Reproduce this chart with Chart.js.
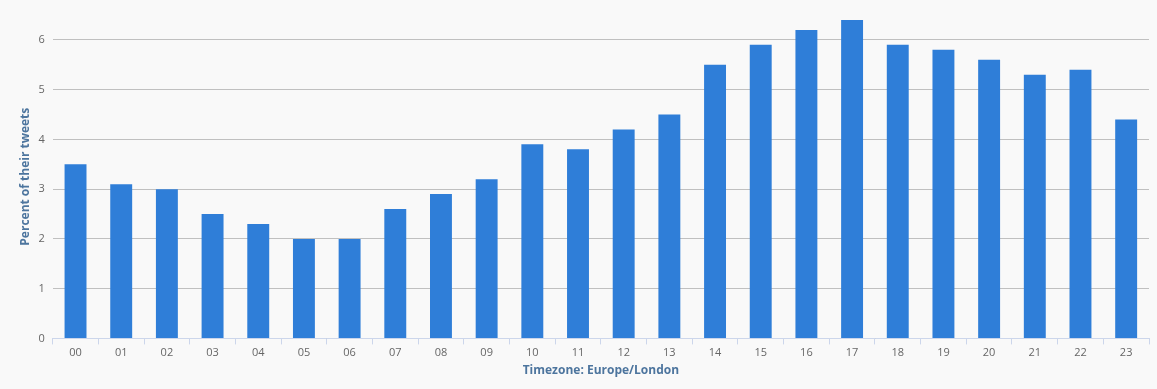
<!DOCTYPE html>
<html>
<head>
<meta charset="utf-8">
<script src="https://cdn.jsdelivr.net/npm/chart.js@4"></script>
<style>
  html, body { margin:0; padding:0; background:#f9f9f9; }
  #wrap { width:1157px; height:389px; position:relative; }
</style>
</head>
<body>
<div id="wrap"><canvas id="c"></canvas></div>
<script>
const categories = ["00","01","02","03","04","05","06","07","08","09","10","11","12","13","14","15","16","17","18","19","20","21","22","23"];
const percentValues = [3.5,3.1,3.0,2.5,2.3,2.0,2.0,2.6,2.9,3.2,3.9,3.8,4.2,4.5,5.5,5.9,6.2,6.4,5.9,5.8,5.6,5.3,5.4,4.4];
const yTickValues = [0,1,2,3,4,5,6];
const xTitle = "Timezone: Europe/London";
const yTitle = "Percent of their tweets";

const FONT = "'Open Sans', 'DejaVu Sans', sans-serif";
new Chart(document.getElementById('c'), {
  type: 'bar',
  data: {
    labels: categories,
    datasets: [{
      data: percentValues,
      backgroundColor: '#2f7ed8',
      borderWidth: 0,
      barPercentage: 0.48,
      categoryPercentage: 1.0
    }]
  },
  options: {
    responsive: true,
    maintainAspectRatio: false,
    animation: false,
    layout: { padding: { left: 18, right: 8, top: 15, bottom: 11 } },
    plugins: { legend: { display: false }, tooltip: { enabled: false } },
    scales: {
      x: {
        grid: { display: true, offset: true, drawOnChartArea: false, drawTicks: true, tickLength: 6, color: '#ccd6eb' },
        border: { display: true, color: '#ccd6eb', width: 1 },
        ticks: { color: '#666666', font: { family: FONT, size: 11 }, padding: 2, maxRotation: 0 },
        title: { display: true, text: xTitle, color: '#4d759e', font: { family: FONT, size: 12, weight: 'bold' }, padding: { top: 2, bottom: 0 } }
      },
      y: {
        min: 0, max: 6.5,
        afterBuildTicks: (axis) => { axis.ticks = yTickValues.map(v => ({ value: v })); },
        grid: { color: '#c0c0c0', drawTicks: false, lineWidth: 1 },
        border: { display: false },
        ticks: { color: '#666666', font: { family: FONT, size: 11 }, padding: 8 },
        title: { display: true, text: yTitle, color: '#4d759e', font: { family: FONT, size: 12, weight: 'bold' }, padding: { top: 0, bottom: -2 } }
      }
    }
  }
});
</script>
</body>
</html>
